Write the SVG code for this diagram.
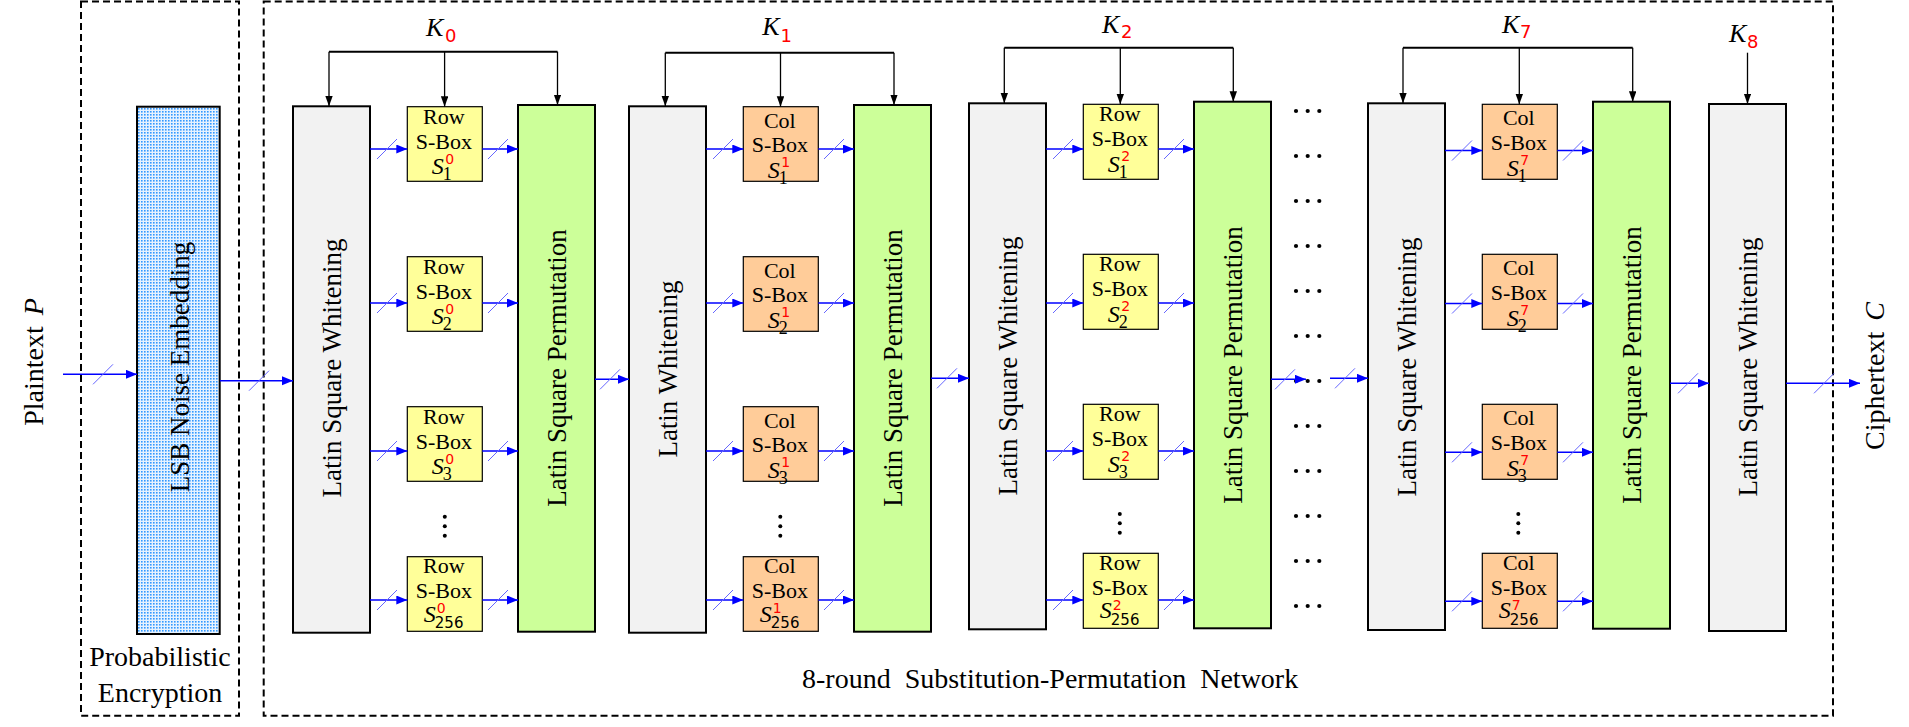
<svg xmlns="http://www.w3.org/2000/svg" width="1909" height="727" viewBox="0 0 1909 727">
<style>
.w{fill:#f2f2f2;stroke:#000;stroke-width:2}
.p{fill:#ccff99;stroke:#000;stroke-width:2}
.row{fill:#ffff99;stroke:#000;stroke-width:1.2}
.col{fill:#ffcc99;stroke:#000;stroke-width:1.2}
.lsb{fill:url(#dots);stroke:#000;stroke-width:2}
.dash{fill:none;stroke:#000;stroke-width:2;stroke-dasharray:7 4}
text{font-family:"Liberation Serif","Times New Roman",serif;fill:#000}
.bl{font-size:27px;text-anchor:middle}
.big{font-size:28px;text-anchor:middle}
.lab{font-size:22px;text-anchor:middle}
.si{font-size:24px;font-style:italic}
.sup{font-family:"DejaVu Sans",sans-serif;font-size:14px;fill:#ff0000}
.sub{font-size:18px}
.sub2{font-family:"DejaVu Sans",sans-serif;font-size:15px}
.ki{font-size:26px;font-style:italic}
.ks{font-family:"DejaVu Sans",sans-serif;font-size:18px;fill:#ff0000}
.bw{stroke:#0000ff;stroke-width:1.5;fill:none;marker-end:url(#ab)}
.kk{stroke:#000;stroke-width:1.3;fill:none;marker-end:url(#ak)}
.bus{stroke:#000;stroke-width:2;fill:none}
.slash{stroke:#6666ff;stroke-width:1;fill:none}
.dot{fill:#000}
</style>
<defs>
<pattern id="dots" width="3" height="3" patternUnits="userSpaceOnUse"><rect width="3" height="3" fill="#e6f2ff"/><rect width="1.6" height="1.6" fill="#3399ff"/></pattern>
<marker id="ab" markerUnits="userSpaceOnUse" markerWidth="12" markerHeight="10" refX="11" refY="4.5" orient="auto"><path d="M0,0L11,4.5L0,9Z" fill="#0000ff"/></marker>
<marker id="ak" markerUnits="userSpaceOnUse" markerWidth="11" markerHeight="8" refX="10.5" refY="3.75" orient="auto"><path d="M0,0L10.5,3.75L0,7.5Z" fill="#000"/></marker>
<path id="sl" class="slash" d="M-10,10L10,-10"/>
</defs>
<rect width="1909" height="727" fill="#fff"/>

<g id="frame-prob">
<rect class="dash" x="81" y="1.5" width="158" height="714.2"/>
<text class="big" x="160" y="666">Probabilistic</text>
<text class="big" x="160" y="702">Encryption</text>
</g>
<g id="frame-spn">
<rect class="dash" x="263.7" y="1.5" width="1569.3" height="714.2"/>
<text x="802" y="688.3" style="font-size:28px;word-spacing:7px">8-round Substitution-Permutation Network</text>
</g>

<g id="plaintext"><text class="big" transform="translate(43,362) rotate(-90)">Plaintext <tspan font-style="italic" dx="4">P</tspan></text></g>
<g id="ciphertext"><text class="big" transform="translate(1884,376) rotate(-90)">Ciphertext <tspan font-style="italic" dx="4">C</tspan></text></g>

<g id="lsb">
<rect class="lsb" x="137" y="106.7" width="82.7" height="527.3"/>
<text class="bl" transform="translate(188.5,367) rotate(-90)">LSB Noise Embedding</text>
</g>

<!-- Round 0 -->
<g id="r0-w"><rect class="w" x="293" y="106.3" width="77" height="526.4"/><text class="bl" transform="translate(341,368) rotate(-90)">Latin Square Whitening</text></g>
<g id="r0-s1"><rect class="row" x="407.3" y="106.7" width="75" height="74.6"/><text class="lab" x="443.8" y="123.7">Row</text><text class="lab" x="443.8" y="148.7">S-Box</text><text class="si" x="431.8" y="174.2">S</text><text class="sup" x="445.3" y="163.7">0</text><text class="sub" x="442.8" y="180.2">1</text></g>
<g id="r0-s2"><rect class="row" x="407.3" y="256.7" width="75" height="74.6"/><text class="lab" x="443.8" y="273.7">Row</text><text class="lab" x="443.8" y="298.7">S-Box</text><text class="si" x="431.8" y="324.2">S</text><text class="sup" x="445.3" y="313.7">0</text><text class="sub" x="442.8" y="330.2">2</text></g>
<g id="r0-s3"><rect class="row" x="407.3" y="406.7" width="75" height="74.6"/><text class="lab" x="443.8" y="423.7">Row</text><text class="lab" x="443.8" y="448.7">S-Box</text><text class="si" x="431.8" y="474.2">S</text><text class="sup" x="445.3" y="463.7">0</text><text class="sub" x="442.8" y="480.2">3</text></g>
<g id="r0-vdots"><circle class="dot" cx="444.8" cy="516.7" r="2"/><circle class="dot" cx="444.8" cy="526.2" r="2"/><circle class="dot" cx="444.8" cy="535.7" r="2"/></g>
<g id="r0-s256"><rect class="row" x="407.3" y="556.7" width="75" height="74.6"/><text class="lab" x="443.8" y="573.2">Row</text><text class="lab" x="443.8" y="598.2">S-Box</text><text class="si" x="423.8" y="621.7">S</text><text class="sup" x="436.8" y="613.2">0</text><text class="sub2" x="434.8" y="628.2">256</text></g>
<g id="r0-p"><rect class="p" x="518" y="105" width="77" height="526.7"/><text class="bl" transform="translate(566,368) rotate(-90)">Latin Square Permutation</text></g>
<g id="k0"><text class="ki" x="426" y="36">K</text><text class="ks" x="445" y="41.7">0</text></g>

<!-- Round 1 -->
<g id="r1-w"><rect class="w" x="629" y="106.3" width="77" height="526.4"/><text class="bl" transform="translate(677,369) rotate(-90)">Latin Whitening</text></g>
<g id="r1-s1"><rect class="col" x="743.3" y="106.7" width="75" height="74.6"/><text class="lab" x="779.8" y="127.7">Col</text><text class="lab" x="779.8" y="152.4">S-Box</text><text class="si" x="767.8" y="178.2">S</text><text class="sup" x="781.3" y="167">1</text><text class="sub" x="778.8" y="184.4">1</text></g>
<g id="r1-s2"><rect class="col" x="743.3" y="256.7" width="75" height="74.6"/><text class="lab" x="779.8" y="277.7">Col</text><text class="lab" x="779.8" y="302.4">S-Box</text><text class="si" x="767.8" y="328.2">S</text><text class="sup" x="781.3" y="317">1</text><text class="sub" x="778.8" y="334.4">2</text></g>
<g id="r1-s3"><rect class="col" x="743.3" y="406.7" width="75" height="74.6"/><text class="lab" x="779.8" y="427.7">Col</text><text class="lab" x="779.8" y="452.4">S-Box</text><text class="si" x="767.8" y="478.2">S</text><text class="sup" x="781.3" y="467">1</text><text class="sub" x="778.8" y="484.4">3</text></g>
<g id="r1-vdots"><circle class="dot" cx="780.3" cy="516.7" r="2"/><circle class="dot" cx="780.3" cy="526.2" r="2"/><circle class="dot" cx="780.3" cy="535.7" r="2"/></g>
<g id="r1-s256"><rect class="col" x="743.3" y="556.7" width="75" height="74.6"/><text class="lab" x="779.8" y="573.2">Col</text><text class="lab" x="779.8" y="598.2">S-Box</text><text class="si" x="759.8" y="621.7">S</text><text class="sup" x="772.8" y="613.2">1</text><text class="sub2" x="770.8" y="628.2">256</text></g>
<g id="r1-p"><rect class="p" x="854" y="105" width="77" height="526.7"/><text class="bl" transform="translate(902,368) rotate(-90)">Latin Square Permutation</text></g>
<g id="k1"><text class="ki" x="762.3" y="35">K</text><text class="ks" x="780.5" y="41.7">1</text></g>

<!-- Round 2 -->
<g id="r2-w"><rect class="w" x="969" y="103.3" width="77" height="526"/><text class="bl" transform="translate(1017,366) rotate(-90)">Latin Square Whitening</text></g>
<g id="r2-s1"><rect class="row" x="1083.3" y="104.3" width="75" height="75"/><text class="lab" x="1119.8" y="121.3">Row</text><text class="lab" x="1119.8" y="146.3">S-Box</text><text class="si" x="1107.8" y="171.8">S</text><text class="sup" x="1121.3" y="161.3">2</text><text class="sub" x="1118.8" y="177.8">1</text></g>
<g id="r2-s2"><rect class="row" x="1083.3" y="254.3" width="75" height="75"/><text class="lab" x="1119.8" y="271.3">Row</text><text class="lab" x="1119.8" y="296.3">S-Box</text><text class="si" x="1107.8" y="321.8">S</text><text class="sup" x="1121.3" y="311.3">2</text><text class="sub" x="1118.8" y="327.8">2</text></g>
<g id="r2-s3"><rect class="row" x="1083.3" y="404.3" width="75" height="75"/><text class="lab" x="1119.8" y="421.3">Row</text><text class="lab" x="1119.8" y="446.3">S-Box</text><text class="si" x="1107.8" y="471.8">S</text><text class="sup" x="1121.3" y="461.3">2</text><text class="sub" x="1118.8" y="477.8">3</text></g>
<g id="r2-vdots"><circle class="dot" cx="1119.8" cy="514" r="2"/><circle class="dot" cx="1119.8" cy="523.3" r="2"/><circle class="dot" cx="1119.8" cy="532.7" r="2"/></g>
<g id="r2-s256"><rect class="row" x="1083.3" y="553.3" width="75" height="75"/><text class="lab" x="1119.8" y="569.8">Row</text><text class="lab" x="1119.8" y="594.8">S-Box</text><text class="si" x="1099.8" y="618.3">S</text><text class="sup" x="1112.8" y="609.8">2</text><text class="sub2" x="1110.8" y="624.8">256</text></g>
<g id="r2-p"><rect class="p" x="1194" y="101.7" width="77" height="526.6"/><text class="bl" transform="translate(1242,365) rotate(-90)">Latin Square Permutation</text></g>
<g id="k2"><text class="ki" x="1102" y="33.3">K</text><text class="ks" x="1121" y="38.3">2</text></g>

<g id="hdots">
<circle class="dot" cx="1296" cy="111" r="2.1"/><circle class="dot" cx="1307.7" cy="111" r="2.1"/><circle class="dot" cx="1319.3" cy="111" r="2.1"/>
<circle class="dot" cx="1296" cy="156" r="2.1"/><circle class="dot" cx="1307.7" cy="156" r="2.1"/><circle class="dot" cx="1319.3" cy="156" r="2.1"/>
<circle class="dot" cx="1296" cy="201" r="2.1"/><circle class="dot" cx="1307.7" cy="201" r="2.1"/><circle class="dot" cx="1319.3" cy="201" r="2.1"/>
<circle class="dot" cx="1296" cy="246" r="2.1"/><circle class="dot" cx="1307.7" cy="246" r="2.1"/><circle class="dot" cx="1319.3" cy="246" r="2.1"/>
<circle class="dot" cx="1296" cy="291" r="2.1"/><circle class="dot" cx="1307.7" cy="291" r="2.1"/><circle class="dot" cx="1319.3" cy="291" r="2.1"/>
<circle class="dot" cx="1296" cy="336" r="2.1"/><circle class="dot" cx="1307.7" cy="336" r="2.1"/><circle class="dot" cx="1319.3" cy="336" r="2.1"/>
<circle class="dot" cx="1296" cy="381" r="2.1"/><circle class="dot" cx="1307.7" cy="381" r="2.1"/><circle class="dot" cx="1319.3" cy="381" r="2.1"/>
<circle class="dot" cx="1296" cy="426" r="2.1"/><circle class="dot" cx="1307.7" cy="426" r="2.1"/><circle class="dot" cx="1319.3" cy="426" r="2.1"/>
<circle class="dot" cx="1296" cy="471" r="2.1"/><circle class="dot" cx="1307.7" cy="471" r="2.1"/><circle class="dot" cx="1319.3" cy="471" r="2.1"/>
<circle class="dot" cx="1296" cy="516" r="2.1"/><circle class="dot" cx="1307.7" cy="516" r="2.1"/><circle class="dot" cx="1319.3" cy="516" r="2.1"/>
<circle class="dot" cx="1296" cy="561" r="2.1"/><circle class="dot" cx="1307.7" cy="561" r="2.1"/><circle class="dot" cx="1319.3" cy="561" r="2.1"/>
<circle class="dot" cx="1296" cy="606" r="2.1"/><circle class="dot" cx="1307.7" cy="606" r="2.1"/><circle class="dot" cx="1319.3" cy="606" r="2.1"/>
</g>

<!-- Round 7 -->
<g id="r7-w"><rect class="w" x="1368" y="103.3" width="77" height="526.7"/><text class="bl" transform="translate(1416,367) rotate(-90)">Latin Square Whitening</text></g>
<g id="r7-s1"><rect class="col" x="1482.3" y="104.3" width="75" height="75"/><text class="lab" x="1518.8" y="125.3">Col</text><text class="lab" x="1518.8" y="150">S-Box</text><text class="si" x="1506.8" y="175.8">S</text><text class="sup" x="1520.3" y="164.6">7</text><text class="sub" x="1517.8" y="182">1</text></g>
<g id="r7-s2"><rect class="col" x="1482.3" y="254.3" width="75" height="75"/><text class="lab" x="1518.8" y="275.3">Col</text><text class="lab" x="1518.8" y="300">S-Box</text><text class="si" x="1506.8" y="325.8">S</text><text class="sup" x="1520.3" y="314.6">7</text><text class="sub" x="1517.8" y="332">2</text></g>
<g id="r7-s3"><rect class="col" x="1482.3" y="404.3" width="75" height="75"/><text class="lab" x="1518.8" y="425.3">Col</text><text class="lab" x="1518.8" y="450">S-Box</text><text class="si" x="1506.8" y="475.8">S</text><text class="sup" x="1520.3" y="464.6">7</text><text class="sub" x="1517.8" y="482">3</text></g>
<g id="r7-vdots"><circle class="dot" cx="1518.3" cy="514" r="2"/><circle class="dot" cx="1518.3" cy="523.3" r="2"/><circle class="dot" cx="1518.3" cy="532.7" r="2"/></g>
<g id="r7-s256"><rect class="col" x="1482.3" y="553.3" width="75" height="75"/><text class="lab" x="1518.8" y="569.8">Col</text><text class="lab" x="1518.8" y="594.8">S-Box</text><text class="si" x="1498.8" y="618.3">S</text><text class="sup" x="1511.8" y="609.8">7</text><text class="sub2" x="1509.8" y="624.8">256</text></g>
<g id="r7-p"><rect class="p" x="1593" y="101.7" width="77" height="527"/><text class="bl" transform="translate(1641,365) rotate(-90)">Latin Square Permutation</text></g>
<g id="k7"><text class="ki" x="1502" y="33.3">K</text><text class="ks" x="1520" y="38.3">7</text></g>

<!-- Final whitening -->
<g id="w8"><rect class="w" x="1709" y="104" width="77" height="527"/><text class="bl" transform="translate(1757,367) rotate(-90)">Latin Square Whitening</text></g>
<g id="k8"><text class="ki" x="1729" y="41.7">K</text><text class="ks" x="1747" y="47.7">8</text></g>

<g id="connectors">
<path class="bus" d="M329,51.7H557.5"/>
<line class="kk" x1="329" y1="51.7" x2="329" y2="106.3"/><line class="kk" x1="444.6" y1="51.7" x2="444.6" y2="106.7"/><line class="kk" x1="557.5" y1="51.7" x2="557.5" y2="105"/>
<path class="bus" d="M665.3,52.7H894"/>
<line class="kk" x1="665.3" y1="52.7" x2="665.3" y2="106.3"/><line class="kk" x1="780.5" y1="52.7" x2="780.5" y2="106.7"/><line class="kk" x1="894" y1="52.7" x2="894" y2="105"/>
<path class="bus" d="M1004.3,47.7H1233.3"/>
<line class="kk" x1="1004.3" y1="47.7" x2="1004.3" y2="103.3"/><line class="kk" x1="1120.3" y1="47.7" x2="1120.3" y2="104.3"/><line class="kk" x1="1233.3" y1="47.7" x2="1233.3" y2="101.7"/>
<path class="bus" d="M1403,47.7H1632.7"/>
<line class="kk" x1="1403" y1="47.7" x2="1403" y2="103.3"/><line class="kk" x1="1519.3" y1="47.7" x2="1519.3" y2="104.3"/><line class="kk" x1="1632.7" y1="47.7" x2="1632.7" y2="101.7"/>
<line class="kk" x1="1747.5" y1="52.7" x2="1747.5" y2="104"/>

<line class="bw" x1="63" y1="374.3" x2="137" y2="374.3"/><use href="#sl" x="103" y="374.3"/>
<line class="bw" x1="220" y1="380.7" x2="293" y2="380.7"/><use href="#sl" x="259" y="380.7"/>
<line class="bw" x1="595" y1="379.3" x2="629" y2="379.3"/><use href="#sl" x="610" y="379.3"/>
<line class="bw" x1="931" y1="378.3" x2="969" y2="378.3"/><use href="#sl" x="947" y="378.3"/>
<line class="bw" x1="1271" y1="379.3" x2="1306" y2="379.3"/><use href="#sl" x="1285" y="379.3"/>
<line class="bw" x1="1330" y1="378.3" x2="1368" y2="378.3"/><use href="#sl" x="1345" y="378.3"/>
<line class="bw" x1="1670" y1="383.3" x2="1709" y2="383.3"/><use href="#sl" x="1688" y="383.3"/>
<line class="bw" x1="1786" y1="383.3" x2="1860" y2="383.3"/><use href="#sl" x="1824" y="383.3"/>

<line class="bw" x1="370" y1="149" x2="407.3" y2="149"/><use href="#sl" x="387" y="149"/>
<line class="bw" x1="370" y1="303" x2="407.3" y2="303"/><use href="#sl" x="387" y="303"/>
<line class="bw" x1="370" y1="451" x2="407.3" y2="451"/><use href="#sl" x="387" y="451"/>
<line class="bw" x1="370" y1="600" x2="407.3" y2="600"/><use href="#sl" x="387" y="600"/>
<line class="bw" x1="482.3" y1="149" x2="518" y2="149"/><use href="#sl" x="498" y="149"/>
<line class="bw" x1="482.3" y1="303" x2="518" y2="303"/><use href="#sl" x="498" y="303"/>
<line class="bw" x1="482.3" y1="451" x2="518" y2="451"/><use href="#sl" x="498" y="451"/>
<line class="bw" x1="482.3" y1="600" x2="518" y2="600"/><use href="#sl" x="498" y="600"/>
<line class="bw" x1="706" y1="149" x2="743.3" y2="149"/><use href="#sl" x="723" y="149"/>
<line class="bw" x1="706" y1="303" x2="743.3" y2="303"/><use href="#sl" x="723" y="303"/>
<line class="bw" x1="706" y1="451" x2="743.3" y2="451"/><use href="#sl" x="723" y="451"/>
<line class="bw" x1="706" y1="600" x2="743.3" y2="600"/><use href="#sl" x="723" y="600"/>
<line class="bw" x1="818.3" y1="149" x2="854" y2="149"/><use href="#sl" x="834" y="149"/>
<line class="bw" x1="818.3" y1="303" x2="854" y2="303"/><use href="#sl" x="834" y="303"/>
<line class="bw" x1="818.3" y1="451" x2="854" y2="451"/><use href="#sl" x="834" y="451"/>
<line class="bw" x1="818.3" y1="600" x2="854" y2="600"/><use href="#sl" x="834" y="600"/>
<line class="bw" x1="1046" y1="149" x2="1083.3" y2="149"/><use href="#sl" x="1063" y="149"/>
<line class="bw" x1="1046" y1="303" x2="1083.3" y2="303"/><use href="#sl" x="1063" y="303"/>
<line class="bw" x1="1046" y1="451" x2="1083.3" y2="451"/><use href="#sl" x="1063" y="451"/>
<line class="bw" x1="1046" y1="600" x2="1083.3" y2="600"/><use href="#sl" x="1063" y="600"/>
<line class="bw" x1="1158.3" y1="149" x2="1194" y2="149"/><use href="#sl" x="1174" y="149"/>
<line class="bw" x1="1158.3" y1="303" x2="1194" y2="303"/><use href="#sl" x="1174" y="303"/>
<line class="bw" x1="1158.3" y1="451" x2="1194" y2="451"/><use href="#sl" x="1174" y="451"/>
<line class="bw" x1="1158.3" y1="600" x2="1194" y2="600"/><use href="#sl" x="1174" y="600"/>
<line class="bw" x1="1445" y1="150.5" x2="1482.3" y2="150.5"/><use href="#sl" x="1462" y="150.5"/>
<line class="bw" x1="1445" y1="303.5" x2="1482.3" y2="303.5"/><use href="#sl" x="1462" y="303.5"/>
<line class="bw" x1="1445" y1="452.3" x2="1482.3" y2="452.3"/><use href="#sl" x="1462" y="452.3"/>
<line class="bw" x1="1445" y1="601.3" x2="1482.3" y2="601.3"/><use href="#sl" x="1462" y="601.3"/>
<line class="bw" x1="1557.3" y1="150.5" x2="1593" y2="150.5"/><use href="#sl" x="1573" y="150.5"/>
<line class="bw" x1="1557.3" y1="303.5" x2="1593" y2="303.5"/><use href="#sl" x="1573" y="303.5"/>
<line class="bw" x1="1557.3" y1="452.3" x2="1593" y2="452.3"/><use href="#sl" x="1573" y="452.3"/>
<line class="bw" x1="1557.3" y1="601.3" x2="1593" y2="601.3"/><use href="#sl" x="1573" y="601.3"/>
</g>
</svg>
